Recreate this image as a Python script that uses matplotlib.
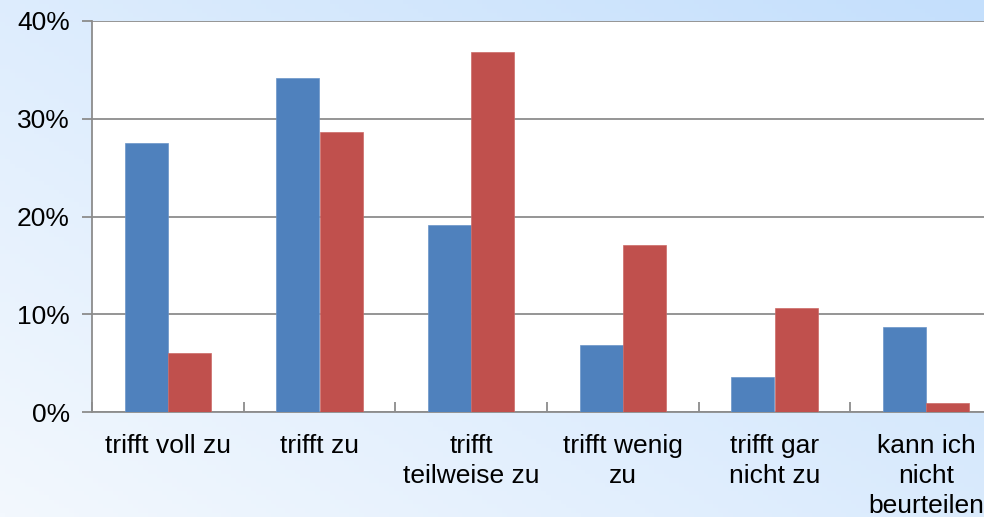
import matplotlib
matplotlib.use("Agg")
import matplotlib.pyplot as plt
import numpy as np
from matplotlib.ticker import FixedLocator, FuncFormatter

categories = ["trifft voll zu", "trifft zu", "trifft\nteilweise zu", "trifft wenig\nzu",
              "trifft gar\nnicht zu", "kann ich\nnicht\nbeurteilen"]
series_a = [27.5, 34.2, 19.1, 6.85, 3.6, 8.7]
series_b = [6.0, 28.6, 36.8, 17.1, 10.6, 0.9]
yticks = [0, 10, 20, 30, 40]

plt.rcParams['font.family'] = ['Liberation Sans', 'DejaVu Sans']

W, H = 984, 517
fig = plt.figure(figsize=(W / 100, H / 100), dpi=100)

# background gradient
bg = fig.add_axes([0, 0, 1, 1], zorder=0)
xx, yy = np.meshgrid(np.linspace(0, 1, 200), np.linspace(0, 1, 120))
t = np.clip((xx * 0.65 + (1 - yy) * 0.55) / 1.2, 0, 1)
c0 = np.array([0xf3, 0xf8, 0xfe]) / 255.0
c1 = np.array([0xc4, 0xdf, 0xfc]) / 255.0
img = c0[None, None, :] * (1 - t[..., None]) + c1[None, None, :] * t[..., None]
bg.imshow(img, aspect='auto', extent=[0, 1, 0, 1], origin='upper')
bg.axis('off')

left, right, top, bottom = 92, 1002, 21, 412
ax = fig.add_axes([left / W, (H - bottom) / H, (right - left) / W, (bottom - top) / H], zorder=1)
ax.set_facecolor('white')

n = len(categories)
x = np.arange(n)
bw = 0.285
ax.bar(x - bw / 2, series_a, width=bw, color='#4f81bd', edgecolor='#6b95c8', linewidth=0.5, zorder=3)
ax.bar(x + bw / 2, series_b, width=bw, color='#c0504d', edgecolor='#cc6a67', linewidth=0.5, zorder=3)

ax.set_xlim(-0.5, n - 0.5)
ax.set_ylim(0, 40)
ax.yaxis.set_major_locator(FixedLocator(yticks))
ax.yaxis.set_major_formatter(FuncFormatter(lambda v, p: f"{int(v)}%"))
ax.grid(axis='y', color='#8c8c8c', linewidth=1.3, zorder=1)

for s in ['top', 'right']:
    ax.spines[s].set_visible(False)
for s in ['left', 'bottom']:
    ax.spines[s].set_color('#8c8c8c')
    ax.spines[s].set_linewidth(1.3)

ax.tick_params(axis='y', length=7, width=1.3, color='#8c8c8c', labelsize=19, pad=9)
ax.set_xticks(np.arange(n + 1) - 0.5)
ax.set_xticklabels([])
ax.tick_params(axis='x', which='major', direction='in', length=7, width=1.3, color='#8c8c8c')
ax.set_xticks(x, minor=True)
ax.set_xticklabels(categories, minor=True)
ax.tick_params(axis='x', which='minor', length=0, labelsize=19, pad=16)
for lbl in ax.get_xticklabels(minor=True):
    lbl.set_linespacing(1.31)

fig.savefig('out.png', dpi=100)
